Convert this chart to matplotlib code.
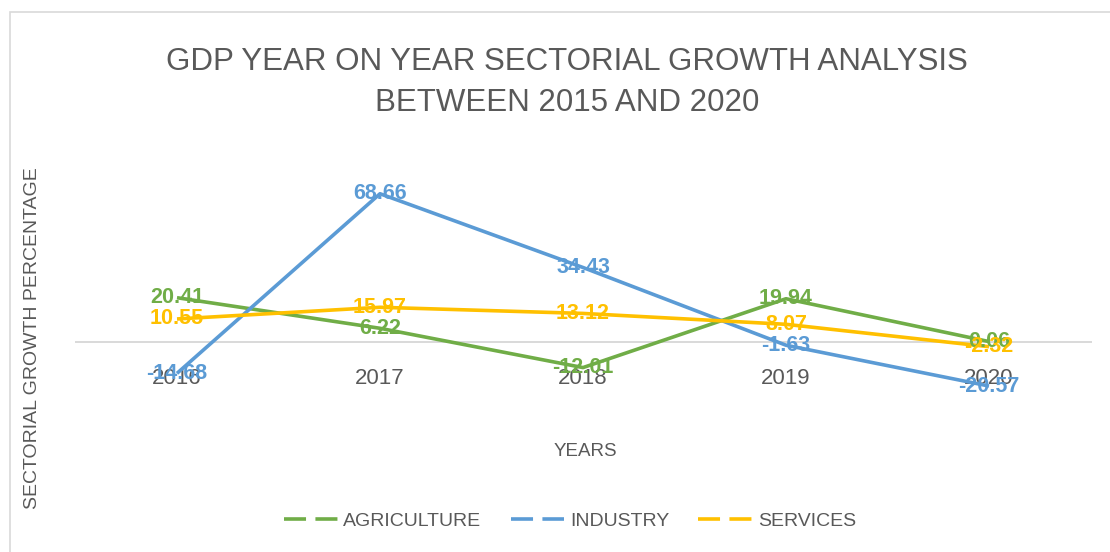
import matplotlib
matplotlib.use("Agg")
import matplotlib.pyplot as plt
from matplotlib.patches import Rectangle

years = ["2016", "2017", "2018", "2019", "2020"]
agriculture = [20.41, 6.22, -12.01, 19.94, 0.06]
industry = [-14.68, 68.66, 34.43, -1.63, -20.57]
services = [10.55, 15.97, 13.12, 8.07, -2.32]

series = [
    ("AGRICULTURE", agriculture, "#70AD47"),
    ("INDUSTRY", industry, "#5B9BD5"),
    ("SERVICES", services, "#FFC000"),
]

W, H = 1110, 552
GREY = "#595959"
FONT = "Liberation Sans"

fig = plt.figure(figsize=(W / 100, H / 100), dpi=100)

# light chart-area border
fig.patches.append(Rectangle((10 / W, -0.1), 1.2, (H - 12) / H + 0.1,
                             transform=fig.transFigure, fill=False,
                             edgecolor="#D9D9D9", linewidth=1.2))

ax = fig.add_axes([75.5 / W, 124.1 / H, 1015 / W, 258.6 / H])
ax.set_xlim(-0.5, len(years) - 0.5)
ax.set_ylim(-40, 80)

x = list(range(len(years)))
for name, vals, col in series:
    ax.plot(x, vals, color=col, linewidth=2.6, solid_capstyle="butt",
            label=name, zorder=3)
    for xi, v in zip(x, vals):
        ax.text(xi, v, f"{v:.2f}", color=col, fontsize=15.5, fontweight="bold",
                family=FONT, ha="center", va="center", zorder=4)

for s in ["top", "right", "left"]:
    ax.spines[s].set_visible(False)
ax.spines["bottom"].set_position(("data", 0))
ax.spines["bottom"].set_color("#D9D9D9")
ax.spines["bottom"].set_linewidth(1.4)
ax.spines["bottom"].set_zorder(1)
ax.set_yticks([])
ax.set_xticks(x)
ax.set_xticklabels(years, fontsize=16, color=GREY, family=FONT)
ax.tick_params(axis="x", length=0, pad=19)

fig.text(567 / W, 1 - 62 / H, "GDP YEAR ON YEAR SECTORIAL GROWTH ANALYSIS",
         ha="center", va="center", fontsize=22.5, color=GREY, family=FONT)
fig.text(567 / W, 1 - 103 / H, "BETWEEN 2015 AND 2020",
         ha="center", va="center", fontsize=22.5, color=GREY, family=FONT)
fig.text(585 / W, 1 - 452 / H, "YEARS", ha="center", va="center",
         fontsize=13.5, color=GREY, family=FONT)
fig.text(33 / W, 1 - 338 / H, "SECTORIAL GROWTH PERCENTAGE", rotation=90,
         ha="center", va="center", fontsize=14, color=GREY, family=FONT)

leg = fig.legend(loc="center", bbox_to_anchor=(570 / W, 1 - 521 / H), ncol=3,
                 frameon=False, handlelength=2.75, handletextpad=0.3,
                 columnspacing=1.5, prop={"family": FONT, "size": 14})
for h in leg.legend_handles:
    h.set_linestyle((0, (6.1, 2.6)))
    h.set_linewidth(2.6)
for t in leg.get_texts():
    t.set_color(GREY)

fig.savefig("out.png", dpi=100)
